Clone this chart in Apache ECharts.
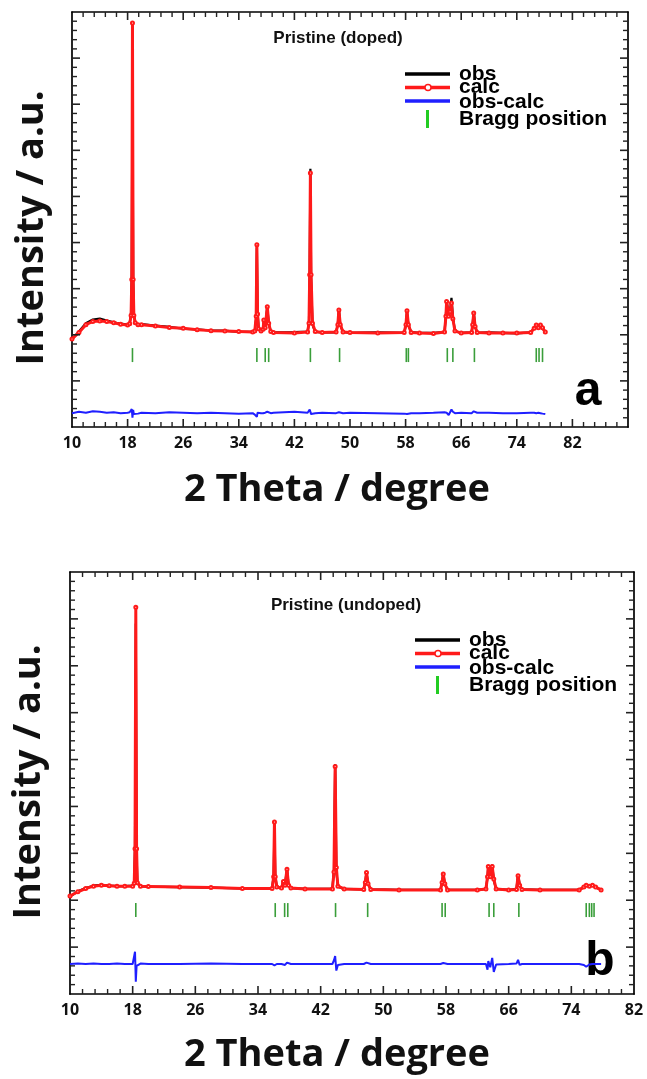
<!DOCTYPE html>
<html>
<head>
<meta charset="utf-8">
<script src="https://cdn.jsdelivr.net/npm/echarts@6/dist/echarts.min.js"></script>
<style>
html, body { margin: 0; padding: 0; background: #fff; }
#chart { width: 647px; height: 1079px; }
</style>
</head>
<body>
<div id="chart"></div>
<script>
// ---- panel a : Pristine (doped) ----
var thetaA = [10.0, 11.0, 12.0, 13.0, 14.0, 15.0, 16.0, 17.0, 18.0, 18.3,
    18.5, 18.6, 18.7, 18.8, 18.9, 19.1, 19.5, 20.0, 22.0, 24.0,
    26.0, 28.0, 30.0, 32.0, 34.0, 36.0, 36.3, 36.5, 36.6, 36.7,
    36.85, 37.2, 37.5, 37.6, 37.8, 38.1, 38.3, 38.6, 39.0, 42.0,
    43.9, 44.1, 44.2, 44.3, 44.4, 44.6, 45.0, 46.0, 48.0, 48.25,
    48.4, 48.6, 49.0, 50.0, 54.0, 57.8, 58.05, 58.2, 58.4, 58.8,
    60.0, 62.0, 63.6, 63.8, 63.9, 64.2, 64.4, 64.6, 64.8, 65.1,
    66.0, 67.5, 67.65, 67.8, 68.0, 68.3, 70.0, 72.0, 74.0, 76.0,
    76.5, 76.8, 77.1, 77.4, 77.7, 78.1];
var calcA = [191, 205, 222, 229, 230, 229, 226, 223, 221, 224,
    242, 320, 876, 320, 242, 226, 222, 222, 219, 216,
    214, 211, 209, 208, 207, 206, 208, 240, 395, 245,
    213, 208, 212, 232, 215, 261, 225, 207, 205, 204,
    206, 225, 330, 551, 330, 225, 207, 205, 206, 222,
    254, 222, 206, 205, 204, 205, 222, 252, 222, 205,
    204, 203, 206, 240, 272, 240, 250, 269, 235, 208,
    204, 205, 222, 247, 218, 205, 204, 204, 204, 205,
    214, 221, 215, 221, 215, 206];
var obsA = [190, 207, 225, 233, 235, 231, 227, 224, 222, 225,
    248, 335, 800, 328, 245, 224, 221, 223, 220, 217,
    213, 212, 209, 209, 206, 207, 208, 236, 390, 250,
    215, 209, 213, 230, 216, 262, 224, 208, 205, 206,
    207, 228, 335, 560, 326, 222, 206, 205, 205, 223,
    256, 221, 206, 204, 205, 204, 223, 252, 221, 206,
    204, 204, 206, 243, 274, 242, 252, 280, 240, 208,
    204, 205, 224, 250, 218, 204, 205, 204, 203, 205,
    214, 222, 216, 222, 214, 206];
var diffA = [30, 33, 31, 34, 33, 31, 32, 30, 31, 32,
    36, 39, 20, 37, 28, 25, 29, 31, 30, 32,
    31, 30, 31, 30, 29, 30, 27, 25, 22, 31,
    29, 30, 30, 28, 31, 33, 30, 30, 31, 33,
    31, 34, 38, 42, 28, 27, 30, 31, 30, 31,
    32, 30, 30, 31, 30, 29, 30, 28, 29, 30,
    30, 31, 32, 34, 31, 26, 29, 38, 33, 30,
    31, 30, 32, 34, 30, 31, 31, 30, 30, 31,
    31, 30, 31, 30, 29, 28];
var braggA = [18.7, 36.6, 37.8, 38.3, 44.3, 48.5, 58.1, 58.4, 64.0, 64.8, 67.9, 76.8, 77.2, 77.7];
var braggLevelA = 156;

// ---- panel b : Pristine (undoped) ----
var thetaB = [10.0, 11.0, 12.0, 13.0, 14.0, 15.0, 16.0, 17.0, 18.0, 18.2,
    18.3, 18.4, 18.5, 18.6, 19.0, 20.0, 24.0, 28.0, 32.0, 35.8,
    36.0, 36.1, 36.2, 36.4, 37.0, 37.25, 37.45, 37.7, 37.9, 38.2,
    40.0, 43.5, 43.7, 43.85, 44.0, 44.2, 45.0, 47.5, 47.7, 47.85,
    48.05, 48.4, 52.0, 57.3, 57.5, 57.65, 57.85, 58.2, 62.0, 63.1,
    63.3, 63.4, 63.65, 63.9, 64.1, 64.4, 66.0, 67.0, 67.2, 67.4,
    67.7, 70.0, 75.0, 75.6, 75.9, 76.3, 76.7, 77.1, 77.8];
var calcB = [209, 218, 225, 230, 232, 231, 230, 230, 230, 236,
    310, 825, 310, 237, 230, 229, 228, 227, 225, 225,
    250, 367, 250, 228, 226, 240, 232, 266, 232, 226,
    224, 224, 260, 485, 270, 230, 224, 223, 238, 259,
    235, 223, 222, 222, 238, 256, 235, 222, 222, 224,
    250, 272, 250, 272, 245, 224, 222, 223, 252, 232,
    223, 222, 222, 228, 232, 230, 232, 228, 222];
var obsB = [208, 219, 226, 231, 233, 231, 230, 230, 231, 237,
    318, 790, 302, 236, 230, 229, 228, 227, 225, 225,
    252, 360, 254, 228, 227, 242, 232, 268, 232, 226,
    224, 225, 266, 490, 262, 229, 224, 223, 239, 260,
    235, 223, 222, 222, 238, 257, 235, 222, 222, 224,
    248, 274, 250, 276, 242, 224, 222, 224, 255, 233,
    223, 222, 222, 228, 232, 230, 232, 228, 222];
var diffB = [64, 65, 64, 65, 64, 64, 65, 64, 64, 66,
    90, 26, 60, 64, 65, 64, 64, 65, 64, 64,
    66, 61, 65, 64, 64, 67, 62, 67, 63, 64,
    64, 64, 72, 81, 50, 62, 64, 64, 66, 67,
    63, 64, 64, 64, 65, 66, 63, 64, 64, 64,
    52, 70, 57, 77, 47, 63, 64, 65, 73, 62,
    64, 64, 64, 62, 58, 63, 64, 64, 64];
var braggB = [18.4, 36.2, 37.4, 37.8, 43.9, 48.0, 57.5, 57.9, 63.5, 64.1, 67.3, 75.9, 76.3, 76.6, 76.9];
var braggLevelB = 179;

// axes
var xMin = 10, xStep = 8, xMaxA = 90, xMaxB = 82, xLastLabel = 82;
var yMin = 0, yMax = 900, yStep = 100;
var minorSplit = 5;

var legendNames = ['obs', 'calc', 'obs-calc', 'Bragg position'];

function pairs(xs, ys) {
    var out = [];
    for (var i = 0; i < xs.length; i++) {
        out.push([xs[i], ys[i]]);
    }
    return out;
}
function braggMarks(xs, level) {
    var out = [];
    for (var i = 0; i < xs.length; i++) {
        out.push([xs[i], level]);
    }
    return out;
}

// tick values along one axis: [value, isMajor]
function tickValues(min, max, step) {
    var out = [];
    var n = Math.round((max - min) / step * minorSplit);
    for (var i = 1; i < n; i++) {
        out.push([min + i * step / minorSplit, i % minorSplit === 0 ? 1 : 0]);
    }
    return out;
}

var majorLen = 8, minorLen = 5;
function tickSeries(axisIndex, xMax, vertical) {
    var vals = vertical ? tickValues(yMin, yMax, yStep) : tickValues(xMin, xMax, xStep);
    return {
        type: 'custom', xAxisIndex: axisIndex, yAxisIndex: axisIndex, silent: true, z: 5,
        data: vals,
        renderItem: function (params, api) {
            var v = api.value(0);
            var len = api.value(1) ? majorLen : minorLen;
            var lw = api.value(1) ? 1.6 : 1.4;
            var a, b, s1, s2;
            if (vertical) {
                a = api.coord([xMin, v]); b = api.coord([xMax, v]);
                s1 = {x1: a[0], y1: a[1], x2: a[0] + len, y2: a[1]};
                s2 = {x1: b[0], y1: b[1], x2: b[0] - len, y2: b[1]};
            } else {
                a = api.coord([v, yMin]); b = api.coord([v, yMax]);
                s1 = {x1: a[0], y1: a[1], x2: a[0], y2: a[1] - len};
                s2 = {x1: b[0], y1: b[1], x2: b[0], y2: b[1] + len};
            }
            return {type: 'group', children: [
                {type: 'line', shape: s1, style: {stroke: '#222', lineWidth: lw}},
                {type: 'line', shape: s2, style: {stroke: '#222', lineWidth: lw}}
            ]};
        }
    };
}

function frameAxis(gi, pos, min, max, step, labels) {
    var ax = {
        type: 'value', gridIndex: gi, position: pos, min: min, max: max, interval: step,
        axisLine: {show: true, onZero: false, lineStyle: {color: '#000', width: 1.7}},
        axisTick: {show: false},
        axisLabel: {show: false},
        splitLine: {show: false}
    };
    if (labels) {
        ax.axisLabel = {
            show: true, color: '#111', fontFamily: 'Open Sans', fontWeight: 'bold', fontSize: 16, margin: 8,
            showMinLabel: true, showMaxLabel: true,
            formatter: function (v) { return v > xLastLabel ? '' : String(v); }
        };
    }
    return ax;
}

function panelSeries(axisIndex, theta, obs, calc, diff, bragg, level) {
    return [
        {
            name: 'obs', type: 'line', xAxisIndex: axisIndex, yAxisIndex: axisIndex,
            data: pairs(theta, obs), symbol: 'none',
            lineStyle: {color: '#000', width: 2.2}, itemStyle: {color: '#000'}
        },
        {
            name: 'calc', type: 'line', xAxisIndex: axisIndex, yAxisIndex: axisIndex,
            data: pairs(theta, calc), symbol: 'emptyCircle', symbolSize: 3, showAllSymbol: true,
            lineStyle: {color: '#ff1a1a', width: 3}, itemStyle: {color: '#ff1a1a', borderWidth: 1}
        },
        {
            name: 'obs-calc', type: 'line', xAxisIndex: axisIndex, yAxisIndex: axisIndex,
            data: pairs(theta, diff), symbol: 'none',
            lineStyle: {color: '#1f1fff', width: 2}, itemStyle: {color: '#1f1fff'}
        },
        {
            name: 'Bragg position', type: 'scatter', xAxisIndex: axisIndex, yAxisIndex: axisIndex,
            data: braggMarks(bragg, level), symbol: 'rect', symbolSize: [1.6, 14],
            itemStyle: {color: '#3a9e3a', opacity: 1}
        }
    ];
}

function legendBlock(x, y, dy) {
    var txt = {fill: '#000', font: 'bold 21px "Liberation Sans", Arial, sans-serif', verticalAlign: 'middle'};
    var el = [];
    el.push({type: 'line', shape: {x1: x, y1: y, x2: x + 45, y2: y}, style: {stroke: '#000', lineWidth: 3.5}});
    el.push({type: 'line', shape: {x1: x, y1: y + dy, x2: x + 45, y2: y + dy}, style: {stroke: '#ff1a1a', lineWidth: 3.5}});
    el.push({type: 'circle', shape: {cx: x + 23, cy: y + dy, r: 3}, style: {fill: '#fff', stroke: '#ff1a1a', lineWidth: 1.5}});
    el.push({type: 'line', shape: {x1: x, y1: y + 2 * dy, x2: x + 45, y2: y + 2 * dy}, style: {stroke: '#1f1fff', lineWidth: 3.5}});
    el.push({type: 'rect', shape: {x: x + 21, y: y + 2 * dy + 9, width: 3, height: 18}, style: {fill: '#22cc22'}});
    var ty = [y, y + dy, y + 2 * dy + 1, y + 3 * dy + 5];
    for (var i = 0; i < legendNames.length; i++) {
        el.push({type: 'text', x: x + 54, y: ty[i], style: Object.assign({text: legendNames[i]}, txt)});
    }
    return el;
}

var bigFont = 'bold 38px "Open Sans", sans-serif';
var titleFont = 'bold 17px "Liberation Sans", Arial, sans-serif';
var graphics = [
    {type: 'text', x: 338, y: 38, style: {text: 'Pristine (doped)', font: titleFont, fill: '#111', align: 'center', verticalAlign: 'middle'}},
    {type: 'text', x: 346, y: 605, style: {text: 'Pristine (undoped)', font: titleFont, fill: '#111', align: 'center', verticalAlign: 'middle'}},
    {type: 'text', x: 588, y: 392, style: {text: 'a', font: 'bold 48px "Liberation Sans", Arial, sans-serif', fill: '#000', align: 'center', verticalAlign: 'middle'}},
    {type: 'text', x: 600, y: 962, style: {text: 'b', font: 'bold 48px "Liberation Sans", Arial, sans-serif', fill: '#000', align: 'center', verticalAlign: 'middle'}},
    {type: 'text', x: 337, y: 490, style: {text: '2 Theta / degree', font: bigFont, fill: '#111', align: 'center', verticalAlign: 'middle'}},
    {type: 'text', x: 337, y: 1055, style: {text: '2 Theta / degree', font: bigFont, fill: '#111', align: 'center', verticalAlign: 'middle'}},
    {type: 'text', x: 32, y: 228, rotation: Math.PI / 2, style: {text: 'Intensity / a.u.', font: bigFont, fill: '#111', align: 'center', verticalAlign: 'middle'}},
    {type: 'text', x: 29, y: 782, rotation: Math.PI / 2, style: {text: 'Intensity / a.u.', font: bigFont, fill: '#111', align: 'center', verticalAlign: 'middle'}}
].concat(legendBlock(405, 74, 13.5), legendBlock(415, 640, 13.5));

var myChart = echarts.init(document.getElementById('chart'));
var option = {
    animation: false,
    backgroundColor: '#fff',
    grid: [
        {left: 72, top: 12, width: 556, height: 415},
        {left: 70, top: 572, width: 564, height: 422}
    ],
    xAxis: [
        frameAxis(0, 'bottom', xMin, xMaxA, xStep, true),
        frameAxis(0, 'top', xMin, xMaxA, xStep, false),
        frameAxis(1, 'bottom', xMin, xMaxB, xStep, true),
        frameAxis(1, 'top', xMin, xMaxB, xStep, false)
    ],
    yAxis: [
        frameAxis(0, 'left', yMin, yMax, yStep, false),
        frameAxis(0, 'right', yMin, yMax, yStep, false),
        frameAxis(1, 'left', yMin, yMax, yStep, false),
        frameAxis(1, 'right', yMin, yMax, yStep, false)
    ],
    series: panelSeries(0, thetaA, obsA, calcA, diffA, braggA, braggLevelA)
        .concat(panelSeries(2, thetaB, obsB, calcB, diffB, braggB, braggLevelB))
        .concat([
            tickSeries(0, xMaxA, false), tickSeries(0, xMaxA, true),
            tickSeries(2, xMaxB, false), tickSeries(2, xMaxB, true)
        ]),
    graphic: graphics
};
myChart.setOption(option);
</script>
</body>
</html>
